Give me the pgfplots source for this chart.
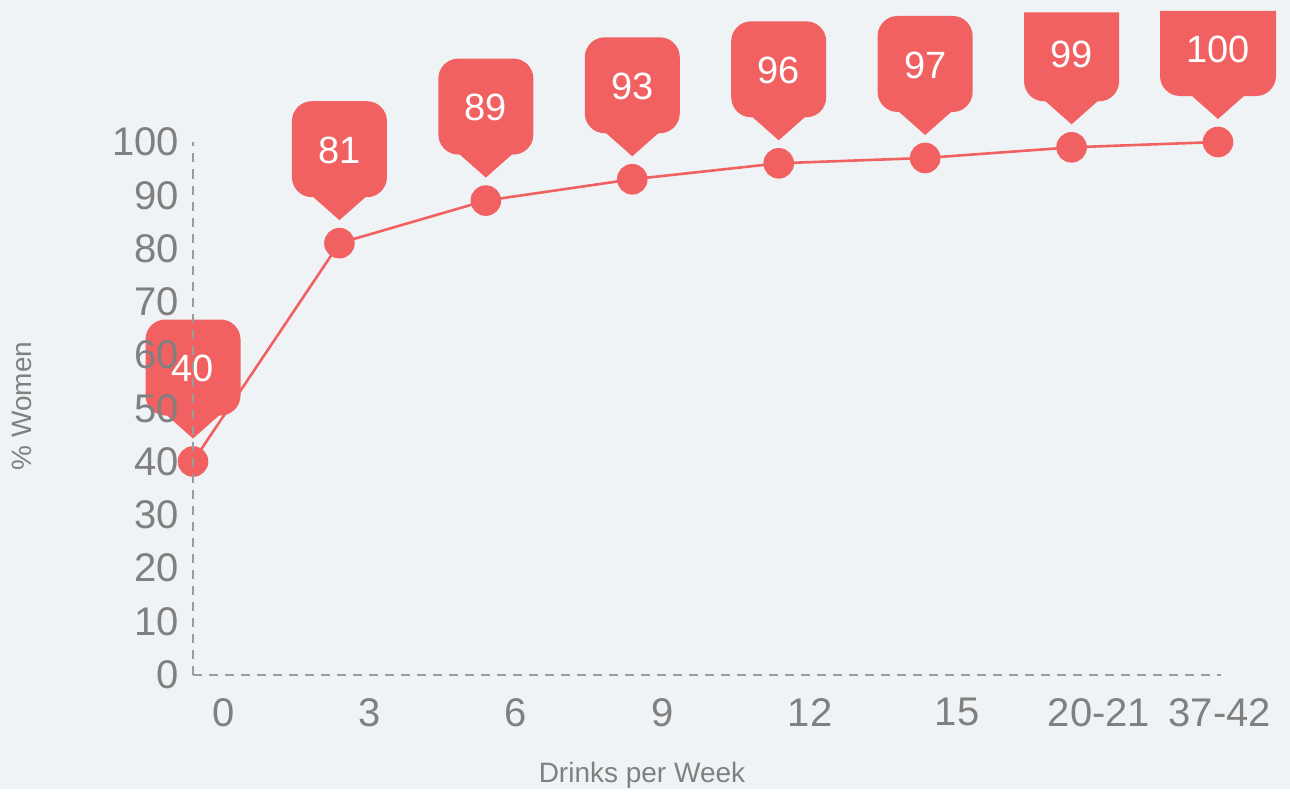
\documentclass[border=0pt]{standalone}
\usepackage{fontspec}
\setmainfont{Liberation Sans}
\usepackage{pgfplots}
\usepackage{pgfplotstable}
\pgfplotsset{compat=1.18}
\definecolor{cred}{RGB}{242,97,97}
\definecolor{bgc}{RGB}{239,243,245}
\definecolor{tickc}{RGB}{128,128,128}
\definecolor{axc}{RGB}{155,155,155}

% callout shape: tip above the point, box above the tip
\newcommand\calloutpath[1]{%
  \pgfsetfillcolor{cred}%
  \pgfpathmoveto{\pgfpoint{0pt}{11.5pt}}%
  \pgfpathlineto{\pgfpoint{13pt}{23pt}}%
  \pgfpathlineto{\pgfpoint{#1-10pt}{23pt}}%
  \pgfpatharc{-90}{0}{10pt}%
  \pgfpathlineto{\pgfpoint{#1}{61pt}}%
  \pgfpatharc{0}{90}{10pt}%
  \pgfpathlineto{\pgfpoint{-#1+10pt}{71pt}}%
  \pgfpatharc{90}{180}{10pt}%
  \pgfpathlineto{\pgfpoint{-#1}{33pt}}%
  \pgfpatharc{180}{270}{10pt}%
  \pgfpathlineto{\pgfpoint{-13pt}{23pt}}%
  \pgfpathclose
  \pgfusepathqfill}
% same shape with its top cut flat at height #2 (cut by the picture's edge)
\newcommand\calloutcut[2]{%
  \pgfsetfillcolor{cred}%
  \pgfpathmoveto{\pgfpoint{0pt}{11.5pt}}%
  \pgfpathlineto{\pgfpoint{13pt}{23pt}}%
  \pgfpathlineto{\pgfpoint{#1-10pt}{23pt}}%
  \pgfpatharc{-90}{0}{10pt}%
  \pgfpathlineto{\pgfpoint{#1}{#2}}%
  \pgfpathlineto{\pgfpoint{-#1}{#2}}%
  \pgfpathlineto{\pgfpoint{-#1}{33pt}}%
  \pgfpatharc{180}{270}{10pt}%
  \pgfpathlineto{\pgfpoint{-13pt}{23pt}}%
  \pgfpathclose
  \pgfusepathqfill}
\pgfdeclareplotmark{tip}{\calloutpath{23.75pt}}
\pgfdeclareplotmark{tipcut}{\calloutcut{23.75pt}{67.5pt}}
\pgfdeclareplotmark{tipwide}{\calloutcut{29pt}{65.5pt}}

\pgfplotstableread{
x y
0 40
1 81
2 89
3 93
4 96
5 97
6 99
7 100
}\datatable

\begin{document}
\begin{tikzpicture}
\fill[bgc] (0,0) rectangle (645pt,-394.5pt);
\begin{axis}[
  set layers=axis on top,
  at={(96.5pt,-337.25pt)}, anchor=south west,
  scale only axis, width=513.96pt, height=266.25pt,
  xmin=0, xmax=7.02, ymin=0, ymax=100,
  clip=false,
  axis lines*=left,
  axis line style={draw=axc, line width=1pt, dash pattern=on 4.5pt off 3.5pt},
  major tick length=0pt,
  ytick={0,10,...,100},
  xtick={0.212,1.209,2.206,3.21,4.214,5.218,6.187,7.013},
  xticklabels={0,3,6,9,12,15,20-21,37-42},
  /pgf/number format/assume math mode=true,
  tick label style={font=\fontsize{20}{24}\selectfont, text=tickc},
  yticklabel style={xshift=-3.5pt},
  xticklabel style={yshift=-8.25pt},
  xlabel={Drinks per Week}, ylabel={\% Women},
  xlabel style={at={(axis description cs:0.4368,-0.2019)}, anchor=base, font=\fontsize{14}{17}\selectfont, text=tickc},
  ylabel style={at={(axis description cs:-0.1664,0.504)}, anchor=center, rotate=0, font=\fontsize{14}{17}\selectfont, text=tickc},
]
\addplot[cred, line width=1.3pt, mark=*, mark size=7pt, mark options={draw=none, fill=cred}] table[x=x, y=y] {\datatable};
\addplot[only marks, mark=tip, nodes near coords,
  every node near coord/.append style={anchor=center, yshift=46.5pt, text=white, font=\fontsize{19}{22}\selectfont}]
  coordinates {(0,40) (1,81) (2,89) (3,93) (4,96) (5,97)};
\addplot[only marks, mark=tipcut, nodes near coords,
  every node near coord/.append style={anchor=center, yshift=46.5pt, text=white, font=\fontsize{19}{22}\selectfont}]
  coordinates {(6,99)};
\addplot[only marks, mark=tipwide, nodes near coords,
  every node near coord/.append style={anchor=center, yshift=46.5pt, text=white, font=\fontsize{19}{22}\selectfont}]
  coordinates {(7,100)};
\end{axis}
\end{tikzpicture}
\end{document}
